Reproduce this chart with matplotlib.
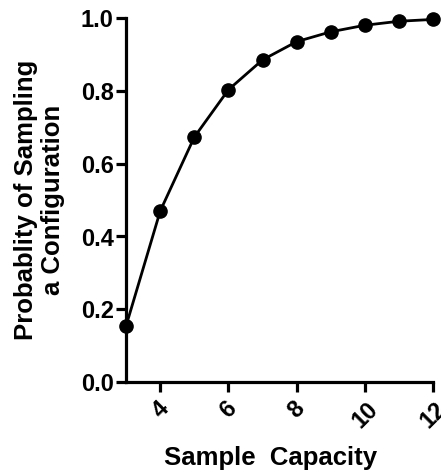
import matplotlib
matplotlib.use("Agg")
import matplotlib.pyplot as plt

capacity = [3, 4, 5, 6, 7, 8, 9, 10, 11, 12]
probability = [0.155, 0.47, 0.673, 0.803, 0.885, 0.935, 0.962, 0.980, 0.991, 0.996]
x_ticks = [4, 6, 8, 10, 12]
y_ticks = [0.0, 0.2, 0.4, 0.6, 0.8, 1.0]

plt.rcParams['font.family'] = ['Liberation Sans', 'DejaVu Sans']
plt.rcParams['font.weight'] = 'bold'

fig = plt.figure(figsize=(4.41, 4.73), dpi=100)
ax = fig.add_axes([0.286, 0.192, 0.696, 0.770])
ax.plot(capacity, probability, color='black', lw=2.0, marker='o', ms=9.5, clip_on=False, zorder=3)
ax.set_xlim(3, 12)
ax.set_ylim(0, 1.0)
ax.set_xticks(x_ticks)
ax.set_yticks(y_ticks)
ax.set_yticklabels([f"{v:.1f}" for v in y_ticks])
for s in ['top', 'right']:
    ax.spines[s].set_visible(False)
for s in ['left', 'bottom']:
    ax.spines[s].set_linewidth(2.3)
ax.tick_params(width=2.3, length=7, labelsize=17, pad=2)
ax.tick_params(axis='x', pad=4)
for lab in ax.get_xticklabels():
    lab.set_rotation(45)
    lab.set_fontweight('bold')
for lab in ax.get_yticklabels():
    lab.set_fontweight('bold')
ax.set_xlabel('Sample  Capacity', fontsize=18.5, fontweight='bold', labelpad=10)
ax.xaxis.label.set_x(0.469)
ax.set_ylabel('Probablity of Sampling\na Configuration', fontsize=18.5, fontweight='bold', labelpad=11, linespacing=1.15)
fig.savefig('out.png', dpi=100)
